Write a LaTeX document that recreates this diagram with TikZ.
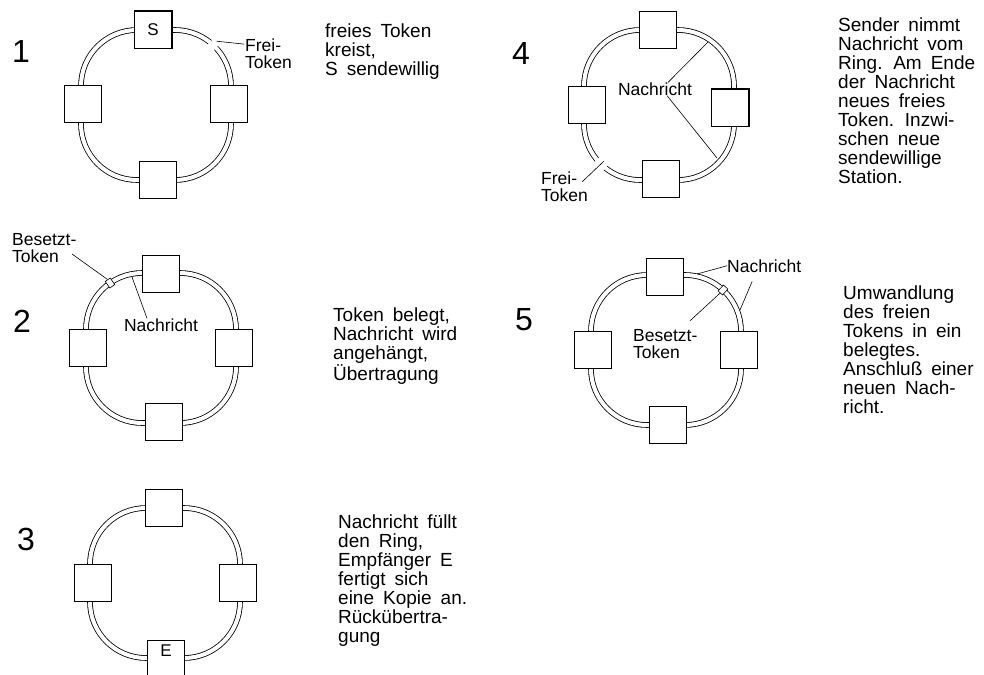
\documentclass[tikz,border=0pt]{standalone}
\usepackage{fontspec}
\setmainfont{Liberation Sans}
\newcommand{\remarkfont}{\fontsize{19}{19}\selectfont\spaceskip=9pt plus 2pt minus 1pt\relax}
\tikzstyle{station} = [rectangle, minimum width=37pt, minimum height=37pt, inner sep=0pt, draw=black, fill=white, line width=0.8pt, font=\fontsize{17}{17}\selectfont]
\tikzstyle{ringline} = [draw=black, line width=0.8pt, double=white, double distance=4pt, rounded corners=56pt]
\tikzstyle{breakgap} = [rectangle, fill=white, inner sep=0pt, minimum width=10pt, minimum height=8pt]
\tikzstyle{busytoken} = [rectangle, draw=black, fill=white, line width=0.6pt, inner sep=0pt, minimum width=8pt, minimum height=6pt]
\tikzstyle{sendmark} = [line width=2.6pt]
\tikzstyle{leader} = [line width=0.6pt]
\tikzstyle{ringno} = [anchor=base west, inner sep=0pt, font=\fontsize{32}{32}\selectfont]
\tikzstyle{remark} = [anchor=base west, align=left, inner sep=0pt, font=\remarkfont]
\tikzstyle{inlabel} = [align=left, inner sep=0pt, font=\fontsize{17.5}{17}\selectfont]

\begin{document}
\begin{tikzpicture}[x=1pt, y=1pt, yscale=-1]
\useasboundingbox (0, 0) rectangle (984, 674);

\draw [ringline] (81, 30) rectangle (231, 180);
\node at (153, 30) (top1) [station] {S};
\node at (83, 104) (left1) [station] {};
\node at (229, 104) (right1) [station] {};
\node at (158, 180) (bottom1) [station] {};
\draw [sendmark] (top1.north west) -- (top1.north east) -- (top1.south east);
\node at (213, 45) (gap1) [breakgap, rotate=47] {};
\node at (245, 69) (frei1) [inlabel, anchor=base west] {Frei-\\Token};
\draw [leader] (frei1.north west) ++(-1, 5) -- (gap1.east);
\node at (12, 63) (no1) [ringno] {1};
\node at (325, 76) (text1) [remark] {freies Token\\kreist,\\S sendewillig};

\draw [ringline] (86, 273) rectangle (236, 423);
\node at (161, 274) (top2) [station] {};
\node at (88, 348) (left2) [station] {};
\node at (234, 348) (right2) [station] {};
\node at (164, 422) (bottom2) [station] {};
\node at (110, 283) (tok2) [busytoken, rotate=125] {};
\coordinate (msg2) at (132, 277);
\node at (12, 262) (bes2) [inlabel, anchor=base west] {Besetzt-\\Token};
\node at (161, 325) (nach2) [inlabel] {Nachricht};
\draw [leader] (bes2.base west) ++(60, -8) -- (tok2.east);
\draw [leader] (nach2.north) ++(-14, 0) -- (msg2);
\node at (13, 332) (no2) [ringno] {2};
\node at (333, 380) (text2) [remark] {Token belegt,\\Nachricht wird\\angehängt,\\Übertragung};

\draw [ringline] (90, 508) rectangle (240, 658);
\node at (164, 508) (top3) [station] {};
\node at (93, 583) (left3) [station] {};
\node at (238, 583) (right3) [station] {};
\node at (166, 659) (bottom3) [station, text height=12pt, text depth=18pt] {E};
\node at (17, 550) (no3) [ringno] {3};
\node at (338, 642) (text3) [remark] {Nachricht füllt\\den Ring,\\Empfänger E\\fertigt sich\\eine Kopie an.\\Rückübertra-\\gung};

\draw [ringline] (584, 30) rectangle (734, 180);
\node at (658, 30) (top4) [station] {};
\node at (587, 105) (left4) [station] {};
\node at (730, 108) (right4) [station] {};
\node at (661, 179) (bottom4) [station] {};
\draw [sendmark] (right4.north west) -- (right4.north east) -- (right4.south east);
\node at (600, 165) (gap4) [breakgap, rotate=45, minimum height=12pt] {};
\node at (541, 201) (frei4) [inlabel, anchor=base west] {Frei-\\Token};
\draw [leader] (frei4.base west) ++(41, -19) -- (gap4.east);
\node at (655, 89) (nach4) [inlabel] {Nachricht};
\coordinate (msg4a) at (708, 42);
\coordinate (msg4b) at (717, 158);
\draw [leader] (nach4.north) ++(13, 0) -- (msg4a);
\draw [leader] (nach4.south) ++(12, 0) -- (msg4b);
\node at (512, 65) (no4) [ringno] {4};
\node at (838, 183) (text4) [remark] {Sender nimmt\\Nachricht vom\\Ring. Am Ende\\der Nachricht\\neues freies\\Token. Inzwi-\\schen neue\\sendewillige\\Station.};

\draw [ringline] (591, 275) rectangle (741, 425);
\node at (665, 277) (top5) [station] {};
\node at (593, 350) (left5) [station] {};
\node at (739, 350) (right5) [station] {};
\node at (668, 425) (bottom5) [station] {};
\node at (723, 290) (tok5) [busytoken, rotate=47] {};
\node at (727, 272) (nach5) [inlabel, anchor=base west] {Nachricht};
\coordinate (msg5a) at (697, 274);
\coordinate (msg5b) at (740, 310);
\draw [leader] (nach5.west) -- (msg5a);
\draw [leader] (nach5.south) ++(-12, 9) -- (msg5b);
\node at (633, 358) (bes5) [inlabel, anchor=base west] {Besetzt-\\Token};
\draw [leader] (bes5.north west) ++(57, -8) -- (tok5.west);
\node at (515, 330) (no5) [ringno] {5};
\node at (843, 413) (text5) [remark] {Umwandlung\\des freien\\Tokens in ein\\belegtes.\\Anschluß einer\\neuen Nach-\\richt.};

\end{tikzpicture}
\end{document}
